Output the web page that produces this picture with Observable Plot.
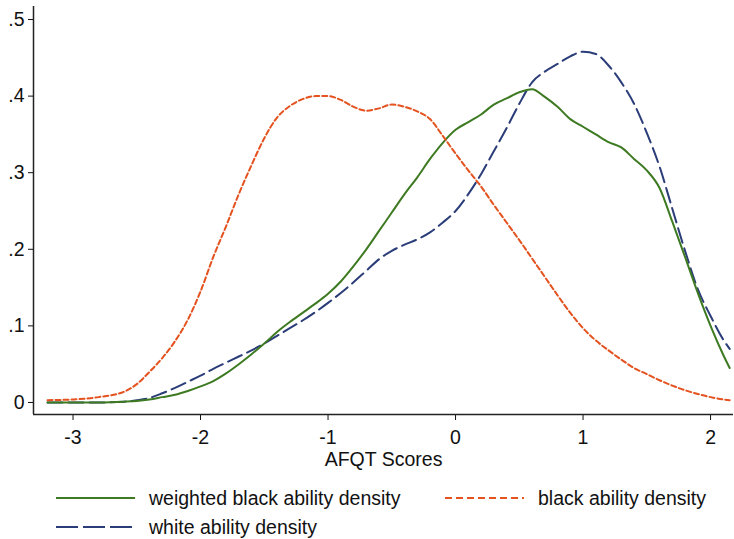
<!DOCTYPE html>
<html><head><meta charset="utf-8">
<script src="https://cdn.jsdelivr.net/npm/d3@7"></script>
<script src="https://cdn.jsdelivr.net/npm/@observablehq/plot@0.6"></script>
<style>
body{margin:0;background:#fff;font-family:"Liberation Sans",Arial,sans-serif;}
#legend{position:relative;height:67px;width:734px;font-size:19.5px;color:#111;}
.item{position:absolute;display:flex;align-items:center;line-height:22px;}
.item svg{margin-right:14px;}
</style></head><body>
<div id="chart"></div>
<div id="legend"></div>
<script>
const xs = [-3.2,-3.0,-2.8,-2.6,-2.5,-2.4,-2.3,-2.2,-2.1,-2.0,-1.9,-1.8,-1.7,-1.6,-1.5,-1.4,-1.3,-1.2,-1.1,-1.0,-0.9,-0.8,-0.7,-0.6,-0.5,-0.4,-0.3,-0.2,-0.1,0.0,0.1,0.2,0.3,0.4,0.5,0.6,0.7,0.8,0.9,1.0,1.1,1.2,1.3,1.4,1.5,1.6,1.7,1.8,1.9,2.0,2.1,2.15];
const weightedBlack = [0.000,0.000,0.000,0.001,0.002,0.004,0.007,0.010,0.015,0.021,0.028,0.038,0.050,0.063,0.077,0.092,0.105,0.117,0.129,0.142,0.158,0.178,0.200,0.224,0.248,0.272,0.294,0.318,0.339,0.356,0.366,0.376,0.389,0.397,0.405,0.409,0.399,0.386,0.370,0.360,0.350,0.340,0.333,0.318,0.303,0.280,0.236,0.190,0.143,0.100,0.062,0.045];
const black = [0.003,0.004,0.007,0.014,0.024,0.040,0.058,0.080,0.108,0.145,0.190,0.230,0.272,0.310,0.345,0.372,0.387,0.396,0.400,0.400,0.395,0.386,0.381,0.384,0.389,0.386,0.380,0.370,0.348,0.325,0.303,0.282,0.258,0.235,0.212,0.188,0.164,0.140,0.117,0.097,0.081,0.068,0.056,0.045,0.037,0.029,0.022,0.016,0.011,0.007,0.004,0.003];
const white = [0.000,0.000,0.000,0.001,0.003,0.006,0.012,0.019,0.027,0.035,0.044,0.052,0.060,0.068,0.077,0.087,0.097,0.107,0.118,0.130,0.143,0.157,0.172,0.187,0.198,0.206,0.213,0.222,0.235,0.250,0.272,0.298,0.328,0.358,0.390,0.418,0.432,0.442,0.452,0.458,0.455,0.440,0.418,0.390,0.352,0.308,0.253,0.198,0.148,0.113,0.082,0.070];
const xTicks = [-3,-2,-1,0,1,2];
const yTicks = [0,0.1,0.2,0.3,0.4,0.5];
const seriesNames = ["weighted black ability density","black ability density","white ability density"];
const colors = ["#3d7a22","#e4521f","#2b3d78"];
const dashes = [null,"5,3","15,6"];
const legendDashes = [null,"7,4","22,5"];

const rows = [];
xs.forEach((x,i)=>{
  rows.push({x, y: weightedBlack[i], s: seriesNames[0]});
  rows.push({x, y: black[i], s: seriesNames[1]});
  rows.push({x, y: white[i], s: seriesNames[2]});
});
const xDom = [-3.31, 2.18], yDom = [-0.0157, 0.517];
const lineMark = (k) => Plot.line(rows.filter(d=>d.s===seriesNames[k]), {x:"x", y:"y", stroke: colors[k], strokeWidth: 2, strokeDasharray: dashes[k], curve: "monotone-x"});
const chart = Plot.plot({
  width: 734, height: 472,
  marginLeft: 33, marginRight: 1, marginTop: 6, marginBottom: 58,
  style: {fontSize: "19.5px", fontFamily: "'Liberation Sans', Arial, sans-serif", color: "#111"},
  x: {domain: xDom, ticks: xTicks, tickSize: 6, tickPadding: 10, label: "AFQT Scores", labelAnchor: "center", labelArrow: "none", labelOffset: 51, tickFormat: d => String(d).replace("−","-")},
  y: {domain: yDom, ticks: yTicks, tickSize: 5, tickPadding: 4, label: null, tickFormat: d => d === 0 ? "0" : d3.format(".1f")(d).replace("0.", ".")},
  marks: [
    Plot.ruleX([xDom[0]], {y1: yDom[0], y2: yDom[1], stroke: "#222", strokeWidth: 1.5}),
    Plot.ruleY([yDom[0]], {x1: xDom[0], x2: xDom[1], stroke: "#222", strokeWidth: 1.5}),
    lineMark(2), lineMark(0), lineMark(1)
  ]
});
chart.querySelectorAll("text").forEach(t=>{ t.textContent = t.textContent.replace("−","-"); });
document.getElementById("chart").appendChild(chart);

const pos = [[56,15],[445,15],[56,44]];
const leg = document.getElementById("legend");
seriesNames.forEach((n,k)=>{
  const div = document.createElement("div");
  div.className = "item";
  div.style.left = pos[k][0]+"px"; div.style.top = pos[k][1]+"px";
  div.innerHTML = `<svg width="79" height="6"><line x1="0" x2="79" y1="3" y2="3" stroke="${colors[k]}" stroke-width="2" ${legendDashes[k]?`stroke-dasharray="${legendDashes[k]}"`:""}/></svg><span>${n}</span>`;
  leg.appendChild(div);
});
</script>
</body></html>
